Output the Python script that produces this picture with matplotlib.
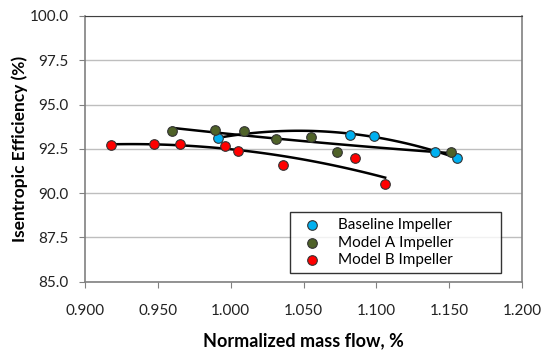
import matplotlib.pyplot as plt
import numpy as np

plt.rcParams['font.family'] = ['Lato', 'DejaVu Sans']

base_x = np.array([0.991, 1.082, 1.098, 1.140, 1.155])
base_y = np.array([93.12, 93.30, 93.25, 92.35, 92.00])

a_x = np.array([0.960, 0.989, 1.009, 1.031, 1.055, 1.073, 1.151])
a_y = np.array([93.50, 93.55, 93.48, 93.05, 93.15, 92.30, 92.35])

b_x = np.array([0.918, 0.947, 0.965, 0.996, 1.005, 1.036, 1.085, 1.106])
b_y = np.array([92.70, 92.80, 92.78, 92.65, 92.40, 91.60, 92.00, 90.50])

labels = ['Baseline Impeller', 'Model A Impeller', 'Model B Impeller']
colors = ['#00B0F0', '#4F6228', '#FF0000']

fig = plt.figure(figsize=(5.49, 3.54), dpi=100)
ax = fig.add_axes([0.155, 0.204, 0.796, 0.751])

# Trendlinien (Polynom 2. Ordnung, wie in Excel)
for xs, ys in [(base_x, base_y), (a_x, a_y), (b_x, b_y)]:
    p = np.polyfit(xs, ys, 2)
    xx = np.linspace(xs.min(), xs.max(), 100)
    ax.plot(xx, np.polyval(p, xx), color='black', lw=1.8, zorder=2)

for xs, ys, lab, c in zip([base_x, a_x, b_x], [base_y, a_y, b_y], labels, colors):
    ax.scatter(xs, ys, s=48, color=c, edgecolor='#333333', linewidth=0.8,
               label=lab, zorder=3)

ax.set_xlim(0.9, 1.2)
ax.set_ylim(85, 100)
ax.set_xticks(np.arange(0.9, 1.201, 0.05))
ax.set_yticks(np.arange(85, 100.1, 2.5))
ax.set_xticklabels(['%.3f' % v for v in np.arange(0.9, 1.201, 0.05)])
ax.set_yticklabels(['%.1f' % v for v in np.arange(85, 100.1, 2.5)])
ax.tick_params(labelsize=11, colors='#808080', labelcolor='#222222', length=4)
ax.tick_params(axis='x', pad=12)
ax.tick_params(axis='y', pad=8)
ax.grid(axis='y', color='#BEBEBE', lw=1)
ax.set_axisbelow(True)
for s in ['left', 'bottom', 'right']:
    ax.spines[s].set_color('#808080')
    ax.spines[s].set_linewidth(1.2)
ax.spines['top'].set_color('#404040')

ax.set_xlabel('Normalized mass flow, %', fontsize=13, fontweight='bold', labelpad=10)
ax.set_ylabel('Isentropic Efficiency (%)', fontsize=12.5, fontweight='bold', labelpad=1)

leg = ax.legend(loc='lower left', bbox_to_anchor=(0.469, 0.034, 0.483, 0.2),
                mode='expand', fontsize=11, frameon=True, fancybox=False,
                edgecolor='black', handletextpad=0.6, borderpad=0.35,
                labelspacing=0.25, borderaxespad=0, handlelength=2.2)
leg.get_frame().set_linewidth(1.0)

plt.savefig('out.png', dpi=100)
